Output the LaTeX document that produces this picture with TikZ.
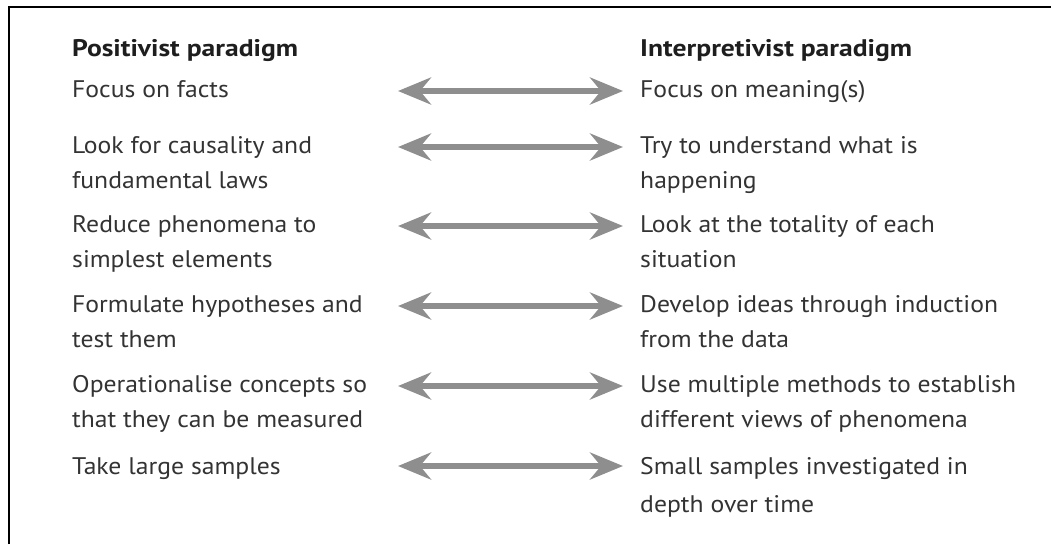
\documentclass[tikz,border=0pt]{standalone}
\usepackage{fontspec}
\setmainfont{PT Sans}[FakeStretch=1.07]
\newfontfamily\headfont{PT Sans}[FakeStretch=1.15]
\usetikzlibrary{arrows.meta}
\definecolor{bodytext}{HTML}{333333}
\definecolor{headtext}{HTML}{1E1E1E}
\definecolor{arrowgray}{HTML}{8E8E8E}
\begin{document}
\begin{tikzpicture}[x=1pt,y=-1pt,
  item/.style={anchor=base west, align=left, inner sep=0pt, text=bodytext,
    font=\fontsize{24}{35}\selectfont},
  head/.style={item, text=headtext, font=\headfont\fontsize{24}{35}\selectfont\bfseries},
  link/.style={draw=arrowgray, line width=6.5pt,
    {Stealth[length=33pt,width=27pt,inset=11pt]}-{Stealth[length=33pt,width=27pt,inset=11pt]}}
]
\useasboundingbox (0,0) rectangle (1051,544);
% open frame: left and top edges only
\draw[line width=2pt] (9,544) -- (9,7) -- (1051,7);

% column headings
\node[head] (lh) at (72,56) {Positivist paradigm};
\node[head] (rh) at (640,56) {Interpretivist paradigm};

% positivist column (two-line nodes sit on the baseline of their last line)
\node[item] (l1) at (72,97)  {Focus on facts};
\node[item] (l2) at (72,188) {Look for causality and\\fundamental laws};
\node[item] (l3) at (72,267) {Reduce phenomena to\\simplest elements};
\node[item] (l4) at (72,347) {Formulate hypotheses and\\test them};
\node[item] (l5) at (72,427) {Operationalise concepts so\\that they can be measured};
\node[item] (l6) at (72,474) {Take large samples};

% interpretivist column
\node[item] (r1) at (640,97)  {Focus on meaning(s)};
\node[item] (r2) at (640,188) {Try to understand what is\\happening};
\node[item] (r3) at (640,267) {Look at the totality of each\\situation};
\node[item] (r4) at (640,347) {Develop ideas through induction\\from the data};
\node[item] (r5) at (640,427) {Use multiple methods to establish\\different views of phenomena};
\node[item] (r6) at (640,512) {Small samples investigated in\\[3pt]depth over time};

% double-headed arrows between the paired statements
\foreach \i/\y in {1/91,2/147,3/226,4/306,5/386,6/466}{
  \coordinate (a\i l) at (398,\y);
  \coordinate (a\i r) at (623,\y);
  \draw[link] (a\i l) -- (a\i r);
}
\end{tikzpicture}
\end{document}
